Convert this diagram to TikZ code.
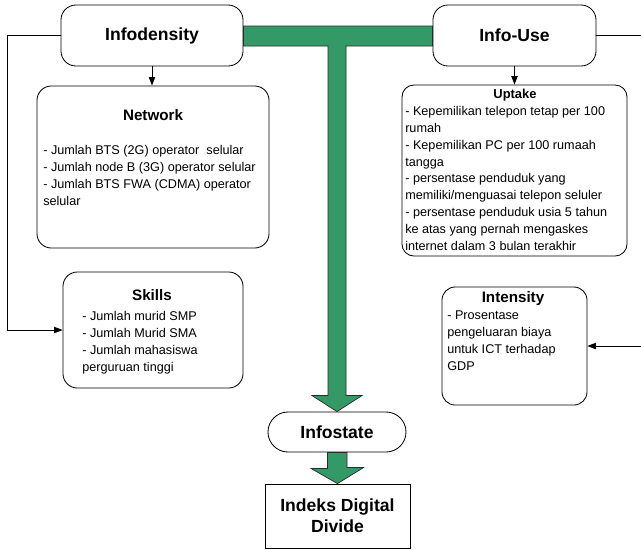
\documentclass[tikz,border=0pt]{standalone}
\usepackage{fontspec}
\setmainfont{Liberation Sans}
\usetikzlibrary{arrows.meta,positioning,calc}
\definecolor{IDGreen}{HTML}{339966}
\definecolor{IDEdge}{HTML}{2B2B2B}

\begin{document}
\begin{tikzpicture}[
    x=0.025cm, y=-0.025cm,
    pillar/.style={
      draw,
      line width=0.6pt,
      rounded corners=0.375cm,
      minimum width=4.55cm,
      minimum height=1.525cm,
      inner sep=0pt,
      font=\fontsize{12.5}{15}\selectfont\bfseries
    },
    group/.style={
      draw,
      line width=0.6pt,
      rounded corners=0.36cm,
      inner sep=0pt
    },
    title/.style={
      inner sep=0pt,
      font=\fontsize{10.8}{13}\selectfont\bfseries
    },
    body/.style={
      inner sep=0pt,
      align=left,
      anchor=north west,
      font=\fontsize{9}{12}\selectfont
    },
    arr/.style={
      -{Triangle[length=6pt,width=4.5pt]},
      line width=0.6pt
    },
    block/.style={
      draw=IDEdge,
      fill=IDGreen,
      line width=0.5pt,
      line join=miter
    }
  ]
  \useasboundingbox (0,0) rectangle (641,549);

  % Top pillars
  \node[pillar] (dens) at (152,35.5) {Infodensity};
  \node[pillar, minimum width=4.075cm] (use) at (514.5,35.5) {Info-Use};

  % Indicator groups
  \node[group, minimum width=5.8cm, minimum height=4.05cm] (net) at (153,167) {};
  \node[group, rounded corners=0.3cm, minimum width=5.625cm,
        minimum height=4.275cm] (uptake) at (514.5,170.5) {};
  \node[group, minimum width=4.5cm, minimum height=2.9cm] (skills) at (153,330) {};
  \node[group, rounded corners=0.33cm, minimum width=3.625cm,
        minimum height=2.95cm] (intens) at (514.5,346) {};

  % Group titles
  \node[title] (net-t) at (153,115) {Network};
  \node[title, font=\fontsize{9.2}{11}\selectfont\bfseries] (uptake-t) at (515,95) {Uptake};
  \node[title] (skills-t) at (152,295) {Skills};
  \node[title] (intens-t) at (513,299) {Intensity};

  % Group contents
  \node[body] (net-b) at (43,145) {- Jumlah BTS (2G) operator~ selular\\
    - Jumlah node B (3G) operator selular\\
    - Jumlah BTS FWA (CDMA) operator\\
    selular};
  \node[body] (uptake-b) at (405,106) {- Kepemilikan telepon tetap per 100\\
    rumah\\
    - Kepemilikan PC per 100 rumaah\\
    tangga\\
    - persentase penduduk yang\\
    memiliki/menguasai telepon seluler\\
    - persentase penduduk usia 5 tahun\\
    ke atas yang pernah mengaskes\\
    internet dalam 3 bulan terakhir};
  \node[body] (skills-b) at (82,311) {- Jumlah murid SMP\\
    - Jumlah Murid SMA\\
    - Jumlah mahasiswa\\
    perguruan tinggi};
  \node[body] (intens-b) at (447,311) {- Prosentase\\
    pengeluaran biaya\\
    untuk ICT terhadap\\
    GDP};

  % Result
  \node[pillar, rounded corners=0.5cm, minimum width=3.45cm,
        minimum height=1cm] (state) at (337,432) {Infostate};
  \node[pillar, rounded corners=0pt, minimum width=3.625cm,
        minimum height=1.6cm, align=center] (idx) at (337.5,516) {Indeks Digital\\Divide};

  % Links
  \draw[arr] (dens.south) -- (dens.south |- net.north);
  \draw[arr] (use.south) -- (uptake.north);
  \draw[arr] (dens.west) -- ++(-53,0) |- (skills.west);
  \draw[arr] (use.east) -- ++(60,0) |- (intens.east);

  % Green block arrows
  \coordinate (bartop) at ($(dens.east)+(0,-9.5)$);
  \coordinate (barbot) at ($(dens.east)+(0,10.5)$);
  \coordinate (shR) at ($(state.north)+(9,-16)$);
  \coordinate (shL) at ($(state.north)+(-9,-16)$);
  \draw[block] (bartop) -- (bartop -| use.west) -- (barbot -| use.west)
    -- (barbot -| shR) -- (shR) -- ++(16,0) -- (state.north)
    -- ($(shL)+(-16,0)$) -- (shL) -- (barbot -| shL) -- (barbot) -- cycle;
  \draw[block] (idx.north) -- ++(26,-16) -- ++(-16.5,0) |- (state.south)
    -- ++(-9.5,0) -- ++(0,16) -- ++(-16.5,0) -- cycle;

\end{tikzpicture}
\end{document}
